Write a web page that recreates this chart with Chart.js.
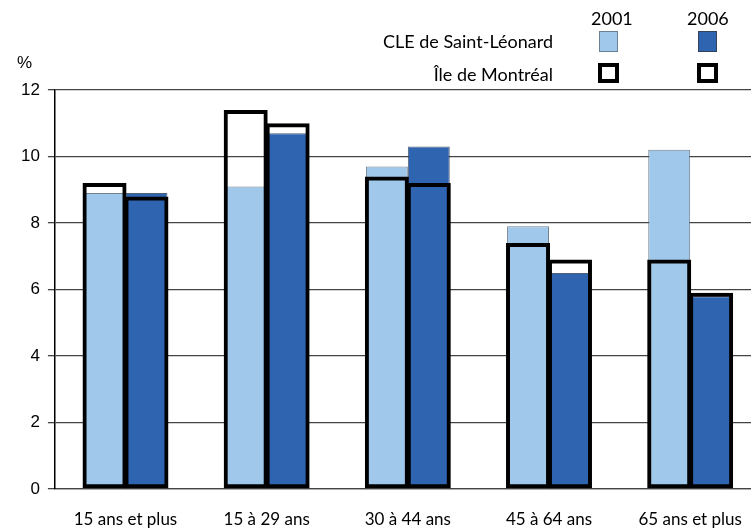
<!DOCTYPE html>
<html>
<head>
<meta charset="utf-8">
<script src="https://cdn.jsdelivr.net/npm/chart.js@4/dist/chart.umd.min.js"></script>
<style>
  html, body { margin: 0; padding: 0; background: #fff; overflow: hidden; }
  #wrap { position: relative; width: 751px; height: 529px; overflow: hidden; }
  #myChart { position: absolute; left: 0; top: 0; }
  .txt { position: absolute; font-family: Lato, sans-serif; font-size: 18px; line-height: 18px; color: #000; white-space: nowrap; }
  .sq { position: absolute; box-sizing: border-box; }
</style>
</head>
<body>
<div id="wrap">
  <canvas id="myChart" width="762" height="529"></canvas>
  <div class="txt" style="left:17px; top:54px; font-family:'Liberation Sans',Arial,sans-serif; font-size:17px; line-height:17px;">%</div>
  <div class="txt" style="left:591px; top:9px; width:40px; text-align:center;">2001</div>
  <div class="txt" style="left:687px; top:9px; width:40px; text-align:center;">2006</div>
  <div class="txt" style="right:198px; top:32px;">CLE de Saint-Léonard</div>
  <div class="txt" style="right:198px; top:65px;">Île de Montréal</div>
  <div class="sq" style="left:599px; top:31px; width:19px; height:21px; background:#a0c8eb; border:1px solid #6c8094;"></div>
  <div class="sq" style="left:698px; top:31px; width:19px; height:21px; background:#2e64b0; border:1px solid #33445a;"></div>
  <div class="sq" style="left:598px; top:63px; width:21px; height:20px; border:4px solid #000;"></div>
  <div class="sq" style="left:697px; top:63px; width:21px; height:20px; border:4px solid #000;"></div>
</div>
<script>
var categories = ['15 ans et plus', '15 à 29 ans', '30 à 44 ans', '45 à 64 ans', '65 ans et plus'];
var cle2001 = [8.9, 9.1, 9.7, 7.9, 10.2];
var cle2006 = [8.9, 10.7, 10.3, 6.5, 5.8];
var mtl2001 = [9.2, 11.4, 9.4, 7.4, 6.9];
var mtl2006 = [8.8, 11.0, 9.2, 6.9, 5.9];
var yTicks = [0, 2, 4, 6, 8, 10, 12];

var lightBlue = '#a0c8eb';
var darkBlue = '#2e64b0';

var ctx = document.getElementById('myChart').getContext('2d');
var chart = new Chart(ctx, {
    type: 'bar',
    data: {
        labels: categories,
        datasets: [
            {
                label: 'Île de Montréal 2001',
                data: mtl2001,
                stack: 'a',
                backgroundColor: 'rgba(0,0,0,0)',
                borderColor: '#000',
                borderWidth: 4,
                borderSkipped: false,
                categoryPercentage: 0.594,
                barPercentage: 1.05
            },
            {
                label: 'Île de Montréal 2006',
                data: mtl2006,
                stack: 'b',
                backgroundColor: 'rgba(0,0,0,0)',
                borderColor: '#000',
                borderWidth: 4,
                borderSkipped: false,
                categoryPercentage: 0.594,
                barPercentage: 1.05
            },
            {
                label: 'CLE de Saint-Léonard 2001',
                data: cle2001,
                stack: 'a',
                backgroundColor: lightBlue,
                borderColor: 'rgba(80,95,110,0.8)',
                borderWidth: 1,
                borderSkipped: false,
                categoryPercentage: 0.594,
                barPercentage: 1
            },
            {
                label: 'CLE de Saint-Léonard 2006',
                data: cle2006,
                stack: 'b',
                backgroundColor: darkBlue,
                borderColor: 'rgba(40,55,80,0.8)',
                borderWidth: 1,
                borderSkipped: false,
                categoryPercentage: 0.594,
                barPercentage: 1
            }
        ]
    },
    options: {
        responsive: false,
        animation: false,
        layout: { padding: { left: 13, top: 90, right: 1, bottom: 0 } },
        plugins: {
            legend: { display: false },
            tooltip: { enabled: false }
        },
        scales: {
            x: {
                stacked: true,
                grid: { display: false, drawTicks: false },
                border: { display: true, color: '#444', width: 1.3 },
                afterFit: function (axis) {
                    axis.height = 40;
                },
                ticks: {
                    padding: 20,
                    color: '#000',
                    font: { family: 'Lato', size: 17 },
                    maxRotation: 0
                }
            },
            y: {
                stacked: false,
                min: 0,
                max: 12,
                afterBuildTicks: function (axis) {
                    axis.ticks = yTicks.map(function (v) { return { value: v }; });
                },
                grid: {
                    color: '#444',
                    lineWidth: 1.3,
                    tickLength: 7,
                    tickColor: '#444'
                },
                border: { display: true, color: '#000', width: 1.5 },
                ticks: {
                    padding: 8,
                    color: '#000',
                    font: { family: "'Liberation Sans', Arial, sans-serif", size: 17 }
                }
            }
        }
    }
});
</script>
</body>
</html>
